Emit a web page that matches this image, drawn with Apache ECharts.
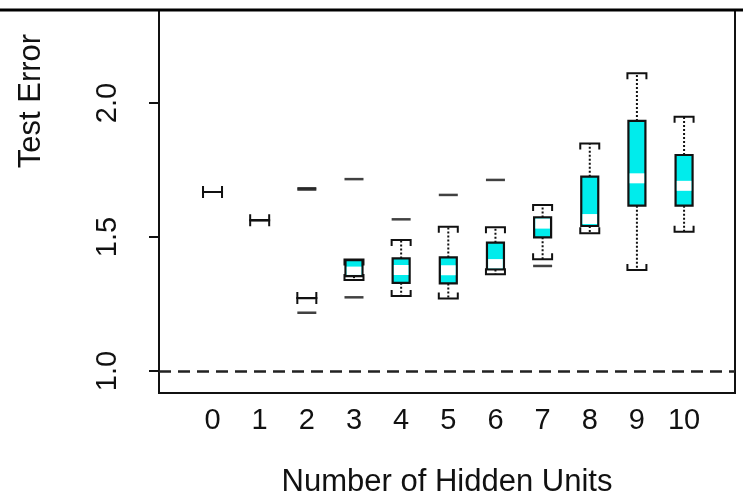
<!DOCTYPE html>
<html>
<head>
<meta charset="utf-8">
<script src="https://cdn.jsdelivr.net/npm/echarts@6/dist/echarts.min.js"></script>
<style>
html,body{margin:0;padding:0;background:#fff;}
#chart{width:743px;height:496px;}
</style>
</head>
<body>
<div id="chart"></div>
<script>
// ---- data ----
const hiddenUnits = [0, 1, 2, 3, 4, 5, 6, 7, 8, 9, 10];
const whiskerLow  = [1.668, 1.563, 1.272, 1.340, 1.280, 1.271, 1.361, 1.417, 1.514, 1.377, 1.520];
const q1          = [1.668, 1.563, 1.272, 1.354, 1.329, 1.327, 1.379, 1.499, 1.541, 1.617, 1.617];
const median      = [1.668, 1.563, 1.272, 1.371, 1.377, 1.376, 1.399, 1.550, 1.567, 1.719, 1.691];
const q3          = [1.668, 1.563, 1.272, 1.414, 1.420, 1.424, 1.479, 1.573, 1.725, 1.933, 1.806];
const whiskerHigh = [1.668, 1.563, 1.272, 1.416, 1.489, 1.538, 1.536, 1.619, 1.849, 2.111, 1.949];
const outlierUnits  = [2, 2, 2, 3, 3, 4, 5, 6, 7];
const outlierValues = [1.2175, 1.677, 1.682, 1.716, 1.275, 1.566, 1.657, 1.713, 1.392];
const yTickValues = [1.0, 1.5, 2.0];
const xTickValues = hiddenUnits;
const referenceError = 1.0;
const xTitle = 'Number of Hidden Units';
const yTitle = 'Test Error';

const boxData = hiddenUnits.map((u, i) => [u, whiskerLow[i], q1[i], median[i], q3[i], whiskerHigh[i]]);
const outlierData = outlierUnits.map((u, i) => [u, outlierValues[i]]);

const FONT = '"Liberation Sans", Arial, Helvetica, sans-serif';
const BOX_W = 17, CAP_W = 19, HOOK = 6;
const CYAN = '#00ecec', INK = '#111';

function renderBox(params, api) {
  const x = api.value(0);
  const pLo = api.coord([x, api.value(1)]);
  const pQ1 = api.coord([x, api.value(2)]);
  const pMed = api.coord([x, api.value(3)]);
  const pQ3 = api.coord([x, api.value(4)]);
  const pHi = api.coord([x, api.value(5)]);
  const cx = pQ1[0];
  const children = [];
  const dash = { stroke: INK, lineWidth: 2, lineDash: [2, 2] };
  if (pQ3[1] - pHi[1] > 0.5) {
    children.push({ type: 'line', shape: { x1: cx, y1: pQ3[1], x2: cx, y2: pHi[1] }, style: dash });
  }
  if (pLo[1] - pQ1[1] > 0.5) {
    children.push({ type: 'line', shape: { x1: cx, y1: pQ1[1], x2: cx, y2: pLo[1] }, style: dash });
  }
  const h = pQ1[1] - pQ3[1];
  children.push({
    type: 'rect',
    shape: { x: cx - BOX_W / 2, y: pQ3[1], width: BOX_W, height: Math.max(h, 0) },
    style: { fill: CYAN, stroke: INK, lineWidth: 2.2 }
  });
  if (h > 2) {
    const top = Math.max(pMed[1] - 5, pQ3[1] + 1.2);
    const bot = Math.min(pMed[1] + 5, pQ1[1] - 1.2);
    children.push({
      type: 'rect',
      shape: { x: cx - BOX_W / 2 + 1.2, y: top, width: BOX_W - 2.4, height: bot - top },
      style: { fill: '#ffffff', stroke: null }
    });
  }
  const capL = cx - CAP_W / 2, capR = cx + CAP_W / 2;
  children.push({
    type: 'polyline',
    shape: { points: [[capL, pHi[1] + HOOK], [capL, pHi[1]], [capR, pHi[1]], [capR, pHi[1] + HOOK]] },
    style: { stroke: INK, lineWidth: 2, fill: null }
  });
  children.push({
    type: 'polyline',
    shape: { points: [[capL, pLo[1] - HOOK], [capL, pLo[1]], [capR, pLo[1]], [capR, pLo[1] - HOOK]] },
    style: { stroke: INK, lineWidth: 2, fill: null }
  });
  return { type: 'group', children: children };
}

const chart = echarts.init(document.getElementById('chart'), null, { renderer: 'canvas' });
chart.setOption({
  animation: false,
  backgroundColor: '#ffffff',
  grid: {
    left: 159, right: 8, top: 10, bottom: 103,
    show: true, borderColor: INK, borderWidth: 2,
    outerBoundsMode: 'none'
  },
  xAxis: {
    type: 'value',
    min: -1.135, max: 11.08,
    name: xTitle,
    nameLocation: 'middle',
    nameGap: 74,
    nameTextStyle: { fontFamily: FONT, fontSize: 31, color: INK },
    axisLine: { show: true, onZero: false, lineStyle: { color: INK, width: 2 } },
    axisTick: { show: false },
    splitLine: { show: false },
    axisLabel: {
      customValues: xTickValues,
      margin: 13,
      fontFamily: FONT, fontSize: 29, color: INK,
      formatter: v => String(v)
    }
  },
  yAxis: {
    type: 'value',
    min: 0.918, max: 2.347,
    axisLine: { show: true, onZero: false, lineStyle: { color: INK, width: 2 } },
    axisTick: { show: true, customValues: yTickValues, length: 10, lineStyle: { color: INK, width: 2 } },
    splitLine: { show: false },
    axisLabel: {
      customValues: yTickValues,
      rotate: 90,
      margin: 37,
      fontFamily: FONT, fontSize: 29, color: INK,
      formatter: v => v.toFixed(1)
    }
  },
  graphic: [
    {
      type: 'line', z: 100,
      shape: { x1: 0, y1: 10, x2: 743, y2: 10 },
      style: { stroke: '#000', lineWidth: 3 }
    },
    {
      type: 'text', z: 100,
      x: 31, y: 101, rotation: Math.PI / 2,
      style: { text: yTitle, font: '31px ' + FONT, fill: INK, textAlign: 'center', textVerticalAlign: 'middle' }
    }
  ],
  series: [
    {
      type: 'custom',
      renderItem: renderBox,
      encode: { x: 0, y: [1, 2, 3, 4, 5] },
      data: boxData,
      z: 3,
      markLine: {
        silent: true,
        symbol: 'none',
        label: { show: false },
        lineStyle: { color: '#222', width: 2.5, type: [12, 7] },
        data: [{ yAxis: referenceError }]
      }
    },
    {
      type: 'scatter',
      data: outlierData,
      symbol: 'rect',
      symbolSize: [19, 2.5],
      itemStyle: { color: INK },
      z: 4
    }
  ]
});
</script>
</body>
</html>
